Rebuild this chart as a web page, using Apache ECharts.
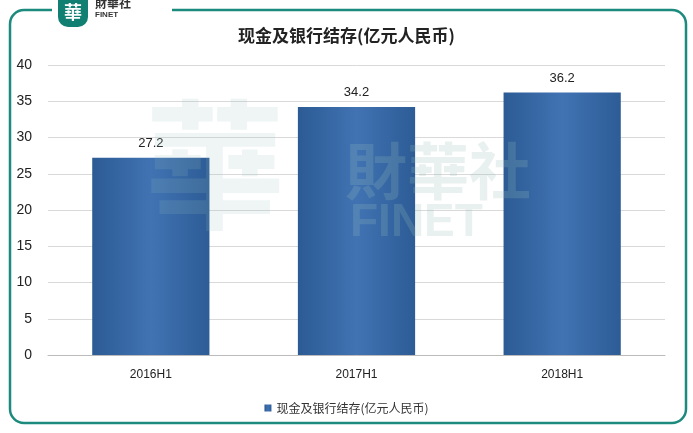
<!DOCTYPE html>
<html><head><meta charset="utf-8">
<script src="https://cdn.jsdelivr.net/npm/echarts@6/dist/echarts.min.js"></script>
<style>html,body{margin:0;padding:0;background:#fff}#c{width:693px;height:433px}</style>
</head><body><div id="c"></div>
<script>
const categories = ['2016H1','2017H1','2018H1'];
const values = [27.2, 34.2, 36.2];
const yTicks = [0,5,10,15,20,25,30,35,40];
const seriesName = '现金及银行结存(亿元人民币)';
const chart = echarts.init(document.getElementById('c'));
const font = '"Noto Sans CJK SC", sans-serif';
chart.setOption({
  animation:false,
  title:{text:seriesName,left:'center',top:22,textStyle:{fontSize:17,fontWeight:'bold',color:'#222',fontFamily:font}},
  grid:{left:48,right:28,top:65,bottom:78},
  legend:{bottom:14,left:'center',itemWidth:7,itemHeight:7,icon:'rect',textStyle:{fontSize:12,color:'#333',fontFamily:font}},
  xAxis:{type:'category',data:categories,axisTick:{show:false},axisLine:{lineStyle:{color:'#bbb'}},axisLabel:{color:'#222',fontSize:12,margin:14}},
  yAxis:{type:'value',min:0,max:40,interval:5,axisLabel:{color:'#222',fontSize:14,margin:16},splitLine:{lineStyle:{color:'#d9d9d9'}}},
  graphic:[
    {type:'rect',shape:{x:10,y:10,width:676,height:413,r:14},style:{fill:'none',stroke:'#1d8a7e',lineWidth:2.5},z:-1},
    {type:'rect',shape:{x:52,y:0,width:120,height:20},style:{fill:'#fff'},z:0},
    {type:'rect',shape:{x:58,y:0,width:30,height:27,r:[0,0,10,10]},style:{fill:'#127f73'},z:1},
    {type:'text',x:73,y:3,style:{text:'華',fill:'#fff',font:'bold 18px "Noto Sans CJK TC"',align:'center'},z:2},
    {type:'text',x:95,y:-3,style:{text:'財華社',fill:'#333',font:'bold 12px "Noto Sans CJK TC"'},z:2},
    {type:'text',x:95,y:11,style:{text:'FINET',fill:'#333',font:'bold 8px sans-serif'},z:2},
    {type:'text',x:345,y:140,style:{text:'財華社',fill:'rgba(150,190,185,0.22)',font:'bold 62px "Noto Sans CJK TC"'},z:100},
    {type:'text',x:350,y:200,style:{text:'FINET',fill:'rgba(150,190,185,0.22)',font:'bold 46px sans-serif'},z:100},
    {type:'text',x:145,y:95,style:{text:'華',fill:'rgba(150,190,185,0.16)',font:'bold 140px "Noto Sans CJK TC"'},z:100}
  ],
  series:[{name:seriesName,type:'bar',data:values,barWidth:'57%',
    itemStyle:{color:new echarts.graphic.LinearGradient(0,0,1,0,[{offset:0,color:'#2c5b94'},{offset:0.5,color:'#4173b3'},{offset:1,color:'#2d5c96'}])},
    label:{show:true,position:'top',color:'#222',fontSize:13,distance:8}}]
});
</script></body></html>
